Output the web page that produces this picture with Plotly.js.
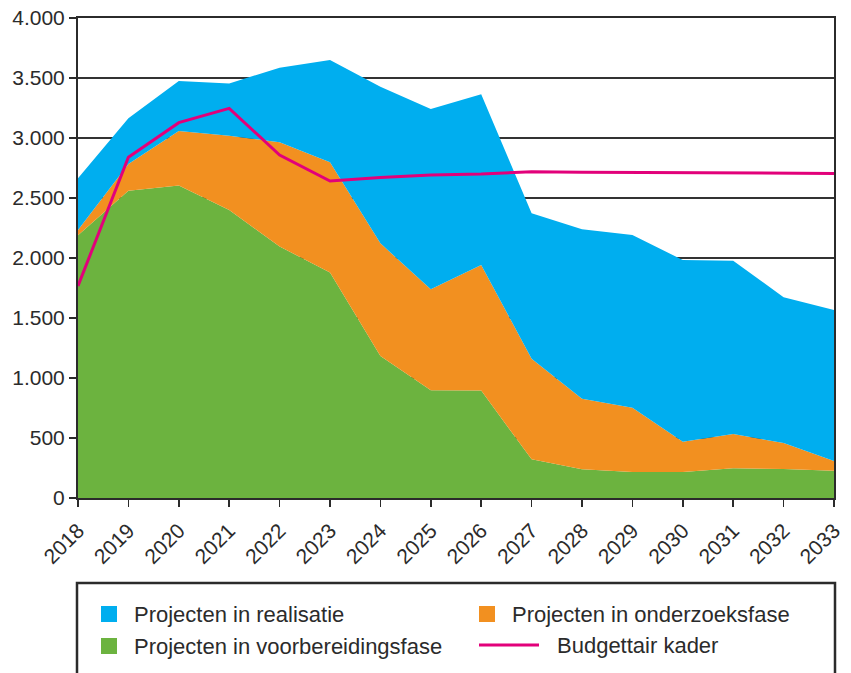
<!DOCTYPE html>
<html>
<head>
<meta charset="utf-8">
<script src="https://cdn.plot.ly/plotly-3.0.1.min.js"></script>
<style>
  html, body { margin: 0; padding: 0; background: #ffffff; }
  #chart { width: 851px; height: 673px; }
</style>
</head>
<body>
<div id="chart"></div>
<script>
// ---- Data ----
const years = [2018, 2019, 2020, 2021, 2022, 2023, 2024, 2025, 2026, 2027, 2028, 2029, 2030, 2031, 2032, 2033];

const voorbereiding = [2190, 2560, 2605, 2400, 2095, 1880, 1183, 897, 895, 322, 239, 217, 217, 247, 242, 228];
const onderzoek     = [43, 223, 453, 619, 869, 917, 939, 842, 1047, 839, 589, 536, 252, 286, 216, 80];
const realisatie    = [431, 381, 417, 436, 622, 853, 1306, 1503, 1422, 1211, 1411, 1439, 1514, 1445, 1214, 1259];
const budget        = [1767, 2839, 3128, 3247, 2858, 2642, 2670, 2692, 2700, 2719, 2714, 2711, 2710, 2710, 2706, 2705];

const seriesNames = {
  realisatie: 'Projecten in realisatie',
  onderzoek: 'Projecten in onderzoeksfase',
  voorbereiding: 'Projecten in voorbereidingsfase',
  budget: 'Budgettair kader'
};

const yTickVals = [0, 500, 1000, 1500, 2000, 2500, 3000, 3500, 4000];

// ---- Styles ----
const C_BLUE = '#00AEEF';
const C_ORANGE = '#F29020';
const C_GREEN = '#6CB33F';
const C_PINK = '#E2007A';
const C_AXIS = '#2b2b2b';
const FONT = 'Liberation Sans, Arial, Helvetica, sans-serif';

const traces = [
  { x: years, y: voorbereiding, name: seriesNames.voorbereiding, type: 'scatter', mode: 'lines',
    stackgroup: 'one', line: { width: 0, color: C_GREEN }, fillcolor: C_GREEN },
  { x: years, y: onderzoek, name: seriesNames.onderzoek, type: 'scatter', mode: 'lines',
    stackgroup: 'one', line: { width: 0, color: C_ORANGE }, fillcolor: C_ORANGE },
  { x: years, y: realisatie, name: seriesNames.realisatie, type: 'scatter', mode: 'lines',
    stackgroup: 'one', line: { width: 0, color: C_BLUE }, fillcolor: C_BLUE },
  { x: years, y: budget, name: seriesNames.budget, type: 'scatter', mode: 'lines',
    line: { width: 3, color: C_PINK } }
];

// Plot area geometry in pixels (for legend placement in paper coords)
const W = 851, H = 673, mL = 78, mR = 17, mT = 18, mB = 175;
const pw = W - mL - mR, ph = H - mT - mB;
const px = v => (v - mL) / pw;
const py = v => (H - mB - v) / ph;

const legendItems = [
  { name: seriesNames.realisatie, color: C_BLUE, kind: 'box', x: 101, y: 614, tx: 132 },
  { name: seriesNames.onderzoek, color: C_ORANGE, kind: 'box', x: 479, y: 614, tx: 510 },
  { name: seriesNames.voorbereiding, color: C_GREEN, kind: 'box', x: 101, y: 646, tx: 132 },
  { name: seriesNames.budget, color: C_PINK, kind: 'line', x: 479, y: 645, tx: 555 }
];

const shapes = [
  { type: 'rect', xref: 'paper', yref: 'paper',
    x0: px(77), x1: px(835), y0: py(583), y1: py(690),
    line: { color: C_AXIS, width: 2.5 }, fillcolor: 'rgba(0,0,0,0)' }
];
const annotations = [];
legendItems.forEach(it => {
  if (it.kind === 'box') {
    shapes.push({ type: 'rect', xref: 'paper', yref: 'paper',
      x0: px(it.x), x1: px(it.x + 16), y0: py(it.y - 8), y1: py(it.y + 8),
      line: { width: 0 }, fillcolor: it.color });
  } else {
    shapes.push({ type: 'line', xref: 'paper', yref: 'paper',
      x0: px(it.x), x1: px(it.x + 60), y0: py(it.y), y1: py(it.y),
      line: { width: 3, color: it.color } });
  }
  annotations.push({ xref: 'paper', yref: 'paper', x: px(it.tx), y: py(it.y),
    xanchor: 'left', yanchor: 'middle', showarrow: false, text: it.name,
    font: { family: FONT, size: 22, color: '#2b2b2b' } });
});

const layout = {
  width: W, height: H,
  margin: { l: mL, r: mR, t: mT, b: mB, pad: 0 },
  paper_bgcolor: '#ffffff', plot_bgcolor: '#ffffff',
  separators: ',.',
  showlegend: false,
  hovermode: false,
  font: { family: FONT, size: 21, color: '#2b2b2b' },
  xaxis: {
    type: 'linear', range: [2018, 2033], tickvals: years, tickformat: 'd',
    tickangle: -45, ticks: 'outside', ticklen: 7, tickwidth: 1.5, tickcolor: C_AXIS,
    ticklabelstandoff: 3,
    showgrid: false, zeroline: false, showline: true, linecolor: C_AXIS, linewidth: 2,
    mirror: true, tickfont: { family: FONT, size: 21, color: '#2b2b2b' }
  },
  yaxis: {
    range: [0, 4000], tickvals: yTickVals, tickformat: ',d',
    ticks: 'outside', ticklen: 7, tickwidth: 1.5, tickcolor: C_AXIS,
    showgrid: true, gridcolor: '#333333', gridwidth: 1.2, zeroline: false,
    showline: true, linecolor: C_AXIS, linewidth: 2, mirror: true,
    tickfont: { family: FONT, size: 21, color: '#2b2b2b' }
  },
  shapes: shapes,
  annotations: annotations
};

Plotly.newPlot('chart', traces, layout, { staticPlot: true, displayModeBar: false });
</script>
</body>
</html>
